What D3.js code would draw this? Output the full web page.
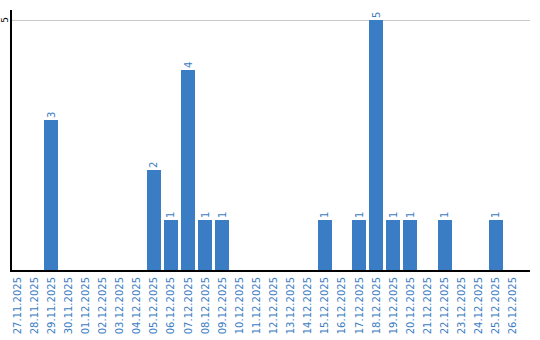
<!DOCTYPE html>
<html><head><meta charset="utf-8">
<script src="https://cdn.jsdelivr.net/npm/d3@7"></script>
<style>body{margin:0;background:#fff}svg{display:block}</style>
</head><body><svg id="c" width="540" height="340"></svg>
<script>
const dates = ["27.11.2025","28.11.2025","29.11.2025","30.11.2025","01.12.2025","02.12.2025","03.12.2025","04.12.2025","05.12.2025","06.12.2025","07.12.2025","08.12.2025","09.12.2025","10.12.2025","11.12.2025","12.12.2025","13.12.2025","14.12.2025","15.12.2025","16.12.2025","17.12.2025","18.12.2025","19.12.2025","20.12.2025","21.12.2025","22.12.2025","23.12.2025","24.12.2025","25.12.2025","26.12.2025"];
const counts = [0,0,3,0,0,0,0,0,2,1,4,1,1,0,0,0,0,0,1,0,1,5,1,1,0,1,0,0,1,0];
const yTicks = [5];

(function(){
const svg = d3.select("#c");
const mL = 10, mT = 10, mB = 270, mR = 530;
const x = d3.scaleBand().domain(dates).range([mL, mL + 17*dates.length]).paddingInner(3/17).paddingOuter(0).align(0);
const bw = x.bandwidth();
const y = d3.scaleLinear().domain([0,5]).range([mB, 20]);
const blue = "#3b7dc4";

svg.selectAll("line.grid").data(yTicks).enter().append("line")
  .attr("x1", mL).attr("x2", mR)
  .attr("y1", d => y(d)).attr("y2", d => y(d))
  .attr("stroke", "#c8c8c8").attr("stroke-width", 1).attr("shape-rendering","crispEdges");

svg.selectAll("text.yl").data(yTicks).enter().append("text")
  .attr("transform", d => `translate(5,${y(d)}) rotate(-90)`)
  .attr("text-anchor","middle").attr("dominant-baseline","central")
  .attr("font-family","DejaVu Sans").attr("font-size", 9).attr("fill","#000")
  .text(d => d);

const data = dates.map((d,i) => ({d, v: counts[i]})).filter(e => e.v > 0);
svg.selectAll("rect.bar").data(data).enter().append("rect")
  .attr("x", e => x(e.d)).attr("width", bw)
  .attr("y", e => y(e.v)).attr("height", e => y(0) - y(e.v))
  .attr("fill", blue).attr("shape-rendering","crispEdges");

svg.selectAll("text.vl").data(data).enter().append("text")
  .attr("transform", e => `translate(${x(e.d) + bw/2},${y(e.v) - 2}) rotate(-90)`)
  .attr("text-anchor","start").attr("dominant-baseline","central")
  .attr("font-family","DejaVu Sans").attr("font-size", 10).attr("fill", blue)
  .text(e => e.v);

svg.append("line").attr("x1", mL+0.5).attr("x2", mL+0.5).attr("y1", mT).attr("y2", mB+1)
  .attr("stroke","#000").attr("stroke-width",2).attr("shape-rendering","crispEdges");
svg.append("line").attr("x1", mL).attr("x2", mR).attr("y1", mB+0.5).attr("y2", mB+0.5)
  .attr("stroke","#000").attr("stroke-width",2).attr("shape-rendering","crispEdges");

svg.selectAll("text.xl").data(dates).enter().append("text")
  .attr("transform", d => `translate(${x(d) + bw/2},277) rotate(-90)`)
  .attr("text-anchor","end").attr("dominant-baseline","central")
  .attr("font-family","DejaVu Sans").attr("font-size", 10).attr("fill", blue)
  .text(d => d);
})();
</script></body></html>
